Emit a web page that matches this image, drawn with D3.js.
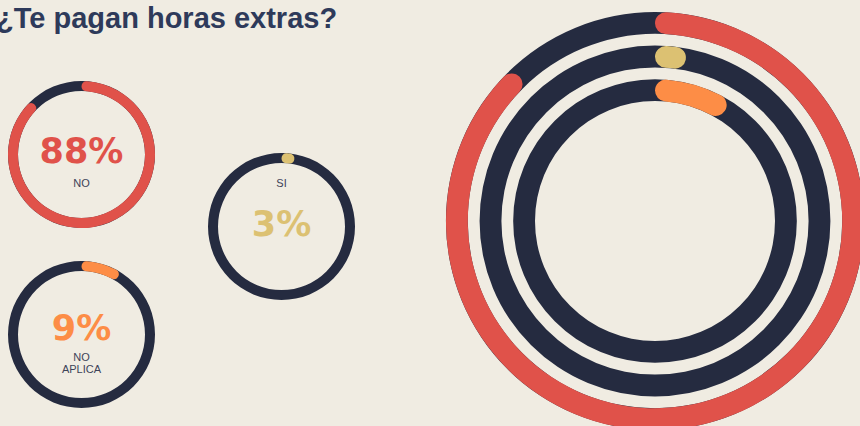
<!DOCTYPE html>
<html><head><meta charset="utf-8">
<script src="https://cdn.jsdelivr.net/npm/d3@7"></script>
<style>
html,body{margin:0;padding:0;background:#f0ece2;}
svg{display:block;}
</style></head>
<body>
<svg id="chart" width="860" height="426"></svg>
<script>
const title = "¿Te pagan horas extras?";
const categories = ["NO", "SI", "NO APLICA"];
const values = [88, 3, 9];
const colors = ["#e0524a", "#dcc172", "#fd8d46"];
const trackColor = "#252b40";

const svg = d3.select("#chart");
svg.append("rect").attr("width", 860).attr("height", 426).attr("fill", "#f0ece2");

svg.append("text").attr("x", -4).attr("y", 28)
  .attr("font-family", "Liberation Sans, Arial, sans-serif")
  .attr("font-weight", "bold").attr("font-size", 29)
  .attr("fill", "#2e3a5a").text(title);

const angle = d3.scaleLinear().domain([0, 100]).range([0, 2 * Math.PI]);

// small donuts
const small = [
  {cx: 81.5, cy: 154.5, numY: 163, labY: [187]},
  {cx: 281.5, cy: 226.5, numY: 236, labY: [187]},
  {cx: 81.5, cy: 334.5, numY: 340, labY: [361, 373]}
];
const sR = 73.5, sT = 10;
const sArc = d3.arc().innerRadius(sR - sT).outerRadius(sR).cornerRadius(sT / 2);
const sTrack = d3.arc().innerRadius(sR - sT).outerRadius(sR).startAngle(0).endAngle(2 * Math.PI);

categories.forEach((c, i) => {
  const p = small[i];
  const g = svg.append("g").attr("transform", `translate(${p.cx},${p.cy})`);
  g.append("path").attr("d", sTrack()).attr("fill", trackColor);
  g.append("path").attr("d", sArc({startAngle: 0, endAngle: angle(values[i])})).attr("fill", colors[i]);
  svg.append("text").attr("x", p.cx).attr("y", p.numY).attr("text-anchor", "middle")
    .attr("font-family", "DejaVu Sans, sans-serif").attr("font-weight", "bold")
    .attr("font-size", 35).attr("fill", colors[i]).text(values[i] + "%");
  const words = c === "NO APLICA" ? ["NO", "APLICA"] : [c];
  words.forEach((w, j) => {
    svg.append("text").attr("x", p.cx).attr("y", p.labY[j]).attr("text-anchor", "middle")
      .attr("font-family", "Liberation Sans, Arial, sans-serif")
      .attr("font-size", 11).attr("fill", "#3d4358").text(w);
  });
});

// big concentric rings
const bigCx = 655, bigCy = 221;
const radius = d3.scaleBand().domain(categories).range([120, 209]).paddingInner(0.35);
const bw = radius.bandwidth();
const order = categories.slice().reverse(); // outermost = first category
const big = svg.append("g").attr("transform", `translate(${bigCx},${bigCy})`);
categories.forEach((c, i) => {
  const inner = radius(order[i]), outer = inner + bw;
  const arc = d3.arc().innerRadius(inner).outerRadius(outer).cornerRadius(bw / 2);
  big.append("path").attr("d", d3.arc().innerRadius(inner).outerRadius(outer)({startAngle: 0, endAngle: 2 * Math.PI}))
    .attr("fill", trackColor);
  big.append("path").attr("d", arc({startAngle: 0, endAngle: angle(values[i])})).attr("fill", colors[i]);
});
</script>
</body></html>
